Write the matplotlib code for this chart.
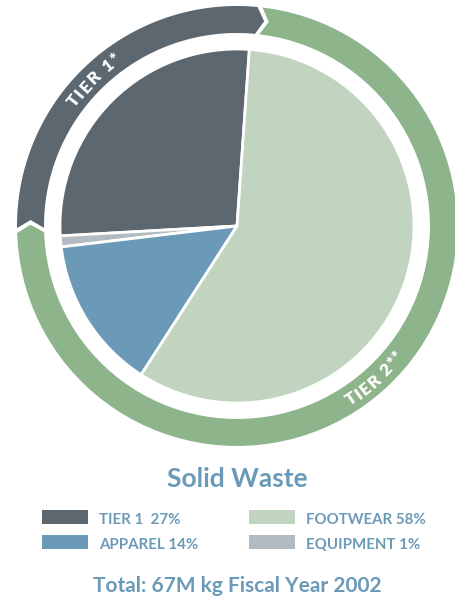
import numpy as np
import matplotlib.pyplot as plt
from matplotlib.patches import Polygon, Rectangle
from matplotlib.font_manager import FontProperties

# pie slices, counterclockwise from the top
slices = ['TIER 1', 'EQUIPMENT', 'APPAREL', 'FOOTWEAR']
shares = [27, 1, 14, 58]
slice_colors = ['#5c6770', '#b3bbc2', '#6b9ab8', '#c1d4bf']

# outer ring: tier 1 vs tier 2 (footwear + apparel + equipment)
tiers = ['TIER 1*', 'TIER 2**']
tier_shares = [27, 73]
tier_colors = ['#5c6770', '#8db48b']

legend_order = ['TIER 1', 'APPAREL', 'FOOTWEAR', 'EQUIPMENT']
title = 'Solid Waste'
total_note = 'Total: 67M kg Fiscal Year 2002'

text_blue = '#6b9ab8'
fam = ['Lato', 'DejaVu Sans']

W, H = 455, 602
cx, cy = 237, 376
start = 86
ring_start = 84
r_pie = 177
r_in, r_out = 193, 220

fig = plt.figure(figsize=(W / 100, H / 100), dpi=100)
ax = fig.add_axes([0, 0, 1, 1])

ax.pie(shares, colors=slice_colors, startangle=start, counterclock=True,
       center=(cx, cy), radius=r_pie,
       wedgeprops=dict(edgecolor='white', linewidth=2))
ax.set_xlim(0, W)
ax.set_ylim(0, H)
ax.set_aspect('equal')
ax.axis('off')


def polar(r, a):
    a = np.radians(a)
    return cx + r * np.cos(a), cy + r * np.sin(a)


def ring_segment(a0, a1, color, gap=1.3, tip=2.2):
    # segment runs clockwise from a1 down to a0, arrow point at a0
    r_mid = (r_in + r_out) / 2
    s = a1 - gap / 2
    e = a0 + gap / 2
    arc = np.linspace(s, e, 80)
    pts = [polar(r_out, t) for t in arc]
    pts.append(polar(r_mid, e - tip))
    pts += [polar(r_in, t) for t in arc[::-1]]
    pts.append(polar(r_mid, s - tip))
    ax.add_patch(Polygon(pts, closed=True, facecolor=color, edgecolor='none'))


a = ring_start
for share, col in zip(tier_shares, tier_colors):
    span = share / 100 * 360
    ring_segment(a, a + span, col)
    a += span

renderer = fig.canvas.get_renderer()


def arc_text(text, center_angle, r, clockwise, size=12.5, tracking=1.2):
    fp = FontProperties(family=fam, weight='heavy', size=size)
    w = np.array([renderer.get_text_width_height_descent(ch, fp, ismath=False)[0]
                  for ch in text])
    total = w.sum() + tracking * (len(text) - 1)
    off = np.cumsum(w + tracking) - (w + tracking) + w / 2 - total / 2
    for ch, o in zip(text, off):
        d = np.degrees(o / r)
        if clockwise:
            th = center_angle - d
            rot = th - 90
        else:
            th = center_angle + d
            rot = th + 90
        x, y = polar(r, th)
        ax.text(x, y, ch, rotation=rot, rotation_mode='anchor', ha='center',
                va='baseline', color='white', fontproperties=fp)


arc_text(tiers[0], 134.5, 200.5, clockwise=True)
arc_text(tiers[1], -48, 212.5, clockwise=False)

# title, legend, total
ax.text(cx, 115, title, ha='center', va='baseline', color=text_blue,
        fontsize=19, fontweight='bold', family=fam)

cols = [(42, 99), (42, 99), (249, 306), (249, 306)]
rows = [78, 53, 78, 53]
for name, (sx, tx), yb in zip(legend_order, cols, rows):
    i = slices.index(name)
    sep = '  ' if name == 'TIER 1' else ' '
    ax.add_patch(Rectangle((sx, yb), 46, 14, facecolor=slice_colors[i], edgecolor='none'))
    ax.text(tx, yb, f'{name}{sep}{shares[i]}%', ha='left', va='baseline',
            color=text_blue, fontsize=10.8, fontweight='bold', family=fam)

ax.text(cx, 10, total_note, ha='center', va='baseline', color=text_blue,
        fontsize=15, fontweight='bold', family=fam)

fig.savefig('out.png', dpi=100)
